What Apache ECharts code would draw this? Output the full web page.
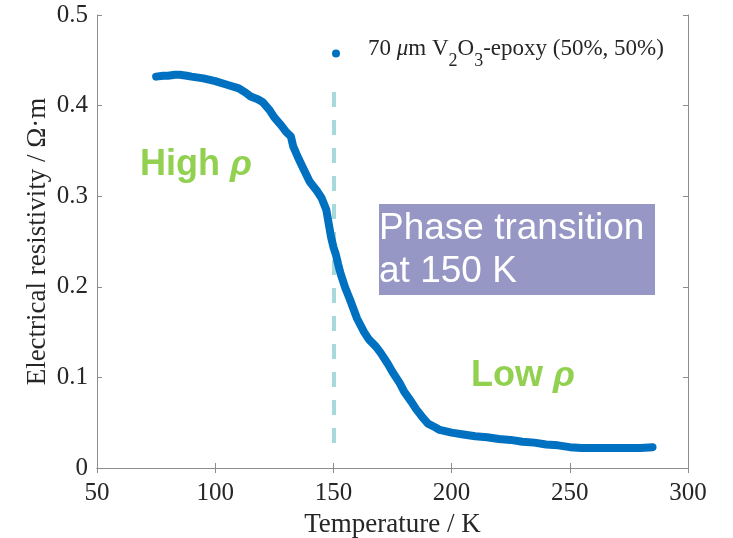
<!DOCTYPE html>
<html>
<head>
<meta charset="utf-8">
<script src="https://cdn.jsdelivr.net/npm/echarts@6/dist/echarts.min.js"></script>
<style>
  html, body { margin: 0; padding: 0; background: #fff; }
  #chart { width: 733px; height: 538px; }
</style>
</head>
<body>
<div id="chart"></div>
<script>
// temperature (K) and resistivity (Ω·m)
const temps = [75, 78, 80, 83, 85, 88, 90, 95, 100, 105, 110, 113, 115, 118, 120, 123, 125, 128, 130, 132, 133, 135, 137, 140, 143, 145, 147, 148, 149, 150, 151, 152, 153, 155, 157, 160, 163, 165, 168, 170, 173, 175, 178, 180, 183, 185, 188, 190, 193, 195, 200, 205, 210, 215, 220, 225, 230, 235, 240, 245, 250, 255, 260, 265, 270, 275, 280, 285]
const rho = [0.432, 0.433, 0.433, 0.434, 0.434, 0.433, 0.432, 0.430, 0.427, 0.423, 0.419, 0.414, 0.410, 0.407, 0.404, 0.395, 0.387, 0.378, 0.371, 0.366, 0.355, 0.343, 0.332, 0.316, 0.306, 0.298, 0.285, 0.270, 0.255, 0.244, 0.236, 0.225, 0.215, 0.199, 0.186, 0.165, 0.150, 0.142, 0.134, 0.127, 0.115, 0.106, 0.094, 0.084, 0.073, 0.065, 0.055, 0.049, 0.045, 0.042, 0.039, 0.037, 0.035, 0.034, 0.032, 0.031, 0.029, 0.028, 0.026, 0.025, 0.023, 0.022, 0.022, 0.022, 0.022, 0.022, 0.022, 0.023]
const xTicks = [50, 300, 50]   // min, max, interval
const yTicks = [0, 0.5, 0.1]
const transitionT = 150
const dashRange = [0.0276, 0.415]

let points = temps.map((t, i) => [t, rho[i]])

let serif = 'Liberation Serif, Times New Roman, serif'
let sans = 'Liberation Sans, Arial, sans-serif'
let axisGray = '#8c8c8c'
let ink = '#262626'

let option = {
  animation: false,
  grid: { left: 97, right: 45, top: 15, bottom: 70, outerBoundsMode: 'none' },
  legend: {
    data: ['rho'],
    left: 327,
    top: 32,
    itemWidth: 8,
    itemHeight: 8,
    icon: 'circle',
    formatter: function () {
      return '{n|70 }{i|μ}{n|m V}{sub|2}{n|O}{sub|3}{n|-epoxy (50%, 50%)}'
    },
    textStyle: {
      fontFamily: serif,
      fontSize: 23,
      color: ink,
      padding: [0, 0, 0, 23],
      rich: {
        n: { fontFamily: serif, fontSize: 23, color: ink, verticalAlign: 'top' },
        i: { fontFamily: serif, fontSize: 23, fontStyle: 'italic', color: ink, verticalAlign: 'top' },
        sub: { fontFamily: serif, fontSize: 18, color: ink, verticalAlign: 'bottom', padding: [15, 0, 0, 0] }
      }
    }
  },
  xAxis: [
    {
      type: 'value',
      min: xTicks[0], max: xTicks[1], interval: xTicks[2],
      name: 'Temperature / K',
      nameLocation: 'middle',
      nameGap: 43,
      nameMoveOverlap: false,
      nameTextStyle: { fontFamily: serif, fontSize: 27, color: ink },
      axisLine: { lineStyle: { color: axisGray, width: 1 } },
      axisTick: { inside: true, length: 5, lineStyle: { color: axisGray } },
      axisLabel: { fontFamily: serif, fontSize: 25, color: ink, margin: 13 },
      splitLine: { show: false }
    },
    {
      type: 'value', position: 'top',
      min: xTicks[0], max: xTicks[1], interval: xTicks[2],
      axisLine: { show: true, lineStyle: { color: axisGray, width: 1 } },
      axisTick: { show: true, inside: true, length: 5, lineStyle: { color: axisGray } },
      axisLabel: { show: false },
      splitLine: { show: false }
    }
  ],
  yAxis: [
    {
      type: 'value',
      min: yTicks[0], max: yTicks[1], interval: yTicks[2],
      name: 'Electrical resistivity / Ω·m',
      nameLocation: 'middle',
      nameGap: 46,
      nameMoveOverlap: false,
      nameTextStyle: { fontFamily: serif, fontSize: 27, color: ink },
      axisLine: { show: true, lineStyle: { color: axisGray, width: 1 } },
      axisTick: { show: true, inside: true, length: 5, lineStyle: { color: axisGray } },
      axisLabel: { fontFamily: serif, fontSize: 25, color: ink, margin: 9 },
      splitLine: { show: false }
    },
    {
      type: 'value', position: 'right',
      min: yTicks[0], max: yTicks[1], interval: yTicks[2],
      axisLine: { show: true, lineStyle: { color: axisGray, width: 1 } },
      axisTick: { show: true, inside: true, length: 5, lineStyle: { color: axisGray } },
      axisLabel: { show: false },
      splitLine: { show: false }
    }
  ],
  series: [
    {
      name: 'rho',
      type: 'line',
      data: points,
      showSymbol: false,
      symbol: 'circle',
      symbolSize: 8,
      itemStyle: { color: '#0070c0' },
      lineStyle: { color: '#0070c0', width: 8, cap: 'round', join: 'round' },
      z: 3,
      markLine: {
        silent: true,
        symbol: 'none',
        label: { show: false },
        lineStyle: { color: '#a6d9db', width: 4, type: [15, 13] },
        data: [[{ coord: [transitionT, dashRange[0]] }, { coord: [transitionT, dashRange[1]] }]],
        z: 2
      }
    }
  ],
  graphic: [
    {
      type: 'text', left: 140, top: 147,
      style: {
        text: 'High {r|ρ}',
        font: 'bold 36px ' + sans,
        lineHeight: 36,
        fill: '#92d050',
        rich: { r: { font: 'italic bold 36px ' + sans, fill: '#92d050', lineHeight: 36 } }
      }
    },
    {
      type: 'text', left: 471, top: 358,
      style: {
        text: 'Low {r|ρ}',
        font: 'bold 36px ' + sans,
        lineHeight: 36,
        fill: '#92d050',
        rich: { r: { font: 'italic bold 36px ' + sans, fill: '#92d050', lineHeight: 36 } }
      }
    },
    {
      type: 'rect', left: 379, top: 204, z: 10,
      shape: { width: 276, height: 91 },
      style: { fill: '#9797c6' }
    },
    {
      type: 'text', left: 379, top: 207, z: 11,
      style: {
        text: 'Phase transition\nat 150 K',
        font: '37px ' + sans,
        lineHeight: 43,
        fill: '#ffffff'
      }
    }
  ]
}

let chart = echarts.init(document.getElementById('chart'))
chart.setOption(option)
</script>
</body>
</html>
